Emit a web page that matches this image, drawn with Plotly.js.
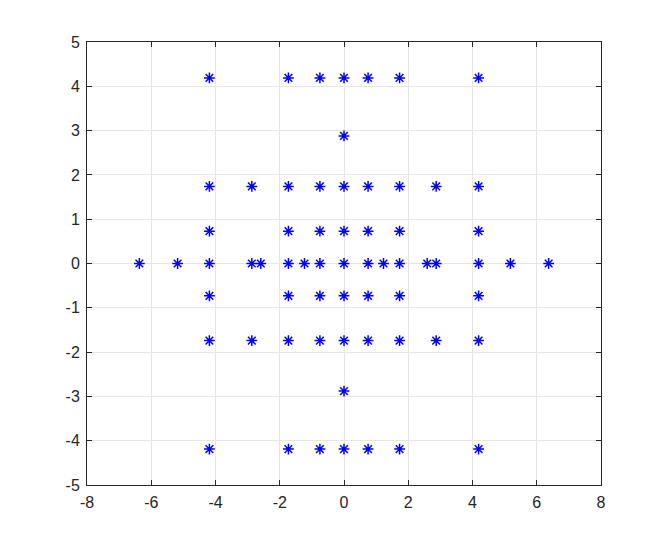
<!DOCTYPE html>
<html>
<head>
<meta charset="utf-8">
<script src="https://cdn.plot.ly/plotly-3.0.1.min.js"></script>
<style>html,body{margin:0;padding:0;background:#fff;}#chart{width:664px;height:546px;}</style>
</head>
<body>
<div id="chart"></div>
<script>
// Points read row by row (y value of the row, then x values in that row)
var row_p419 = [-4.19, -1.73, -0.75, 0, 0.75, 1.73, 4.19];
var row_p288 = [0];
var row_p174 = [-4.19, -2.87, -1.73, -0.75, 0, 0.75, 1.73, 2.87, 4.19];
var row_p073 = [-4.19, -1.73, -0.75, 0, 0.75, 1.73, 4.19];
var row_0 = [-6.37, -5.18, -4.19, -2.87, -2.59, -1.73, -1.23, -0.75, 0, 0.75, 1.23, 1.73, 2.59, 2.87, 4.19, 5.18, 6.37];
var row_m073 = [-4.19, -1.73, -0.75, 0, 0.75, 1.73, 4.19];
var row_m174 = [-4.19, -2.87, -1.73, -0.75, 0, 0.75, 1.73, 2.87, 4.19];
var row_m288 = [0];
var row_m419 = [-4.19, -1.73, -0.75, 0, 0.75, 1.73, 4.19];
var rowY = [4.19, 2.88, 1.74, 0.73, 0, -0.73, -1.74, -2.88, -4.19];
var rowsX = [row_p419, row_p288, row_p174, row_p073, row_0, row_m073, row_m174, row_m288, row_m419];

var xs = [], ys = [];
rowsX.forEach(function (r, i) { r.forEach(function (x) { xs.push(x); ys.push(rowY[i]); }); });

var xTicks = [-8, -6, -4, -2, 0, 2, 4, 6, 8];
var yTicks = [-5, -4, -3, -2, -1, 0, 1, 2, 3, 4, 5];

var trace = {
  x: xs, y: ys, mode: 'markers', type: 'scatter',
  marker: { symbol: 'asterisk-open', size: 9, color: '#0000ff', line: { color: '#0000ff', width: 1.5 } },
  hoverinfo: 'none', showlegend: false
};

var axisCommon = {
  showgrid: true, gridcolor: '#e6e6e6', gridwidth: 1,
  zeroline: false, showline: true, linecolor: '#262626', linewidth: 1, mirror: 'ticks',
  ticks: 'inside', ticklen: 5, tickcolor: '#262626', ticklabelstandoff: 3,
  tickfont: { family: 'Liberation Sans, Arial, sans-serif', size: 16, color: '#262626' }
};

var layout = {
  width: 664, height: 546,
  margin: { l: 87, r: 63, t: 42, b: 61 },
  paper_bgcolor: '#ffffff', plot_bgcolor: '#ffffff',
  xaxis: Object.assign({}, axisCommon, { range: [-8, 8], tickvals: xTicks, ticktext: xTicks.map(String) }),
  yaxis: Object.assign({}, axisCommon, { range: [-5, 5], tickvals: yTicks, ticktext: yTicks.map(String) })
};

Plotly.newPlot('chart', [trace], layout, { displayModeBar: false, staticPlot: true });
</script>
</body>
</html>
